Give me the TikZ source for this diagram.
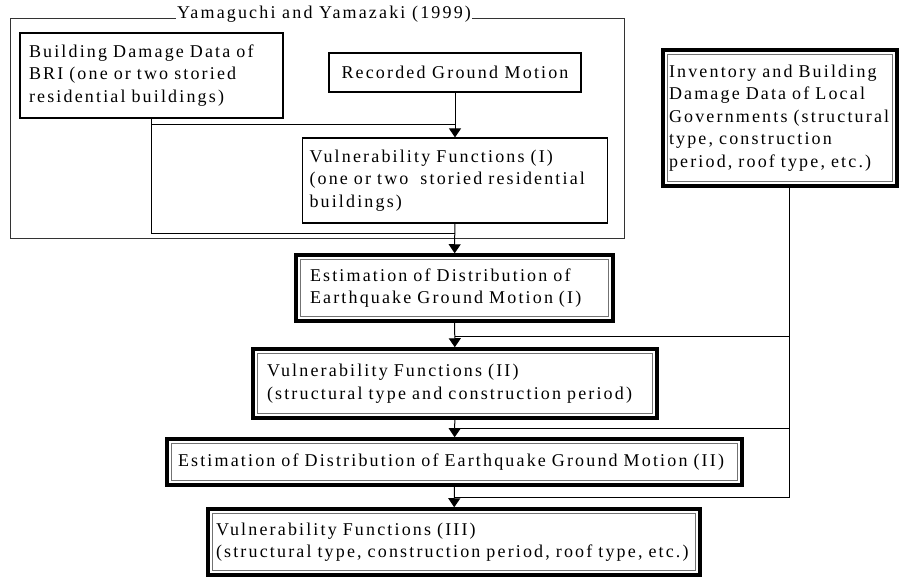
\documentclass[tikz,border=0pt]{standalone}
\usepackage{fontspec}
\setmainfont{Liberation Serif}[LetterSpace=12]
\usetikzlibrary{arrows.meta,positioning}

\begin{document}
\begin{tikzpicture}[x=1pt, y=-1pt,
  txt/.style={font=\fontsize{18}{22.5}\selectfont},
  box/.style={txt, draw, line width=1.2pt, inner ysep=0pt, align=left},
  dbox/.style={txt, draw, line width=3.5pt, inner ysep=0pt, align=left},
  inner/.style={draw=black!55, line width=1.2pt},
  line/.style={draw, line width=1pt},
  arrow/.style={line, -{Triangle[width=12pt,length=9pt]}}
]
  \useasboundingbox (0,0) rectangle (905,577);
  \draw[black!80, line width=1pt] (10,19) rectangle (624,239);
  \node[txt, fill=white, inner sep=1pt] (src) at (324,14) {Yamaguchi and Yamazaki (1999)};

  \node[box, inner xsep=9pt, text width=245pt, minimum height=85pt] (bri) at (151.5,75.5)
    {Building Damage Data of\\BRI (one or two storied\\residential buildings)};
  \node[box, minimum width=252pt, minimum height=39pt, align=center] (rgm) at (455,72.5)
    {Recorded Ground Motion};
  \node[box, inner xsep=7pt, text width=291pt, minimum height=85pt] (vf1) at (455,180.5)
    {Vulnerability Functions (I)\\(one or two~ storied residential\\buildings)};
  \node[dbox, inner xsep=6pt, text width=222pt, minimum height=136pt] (inv) at (780,118)
    {Inventory and Building\\Damage Data of Local\\Governments (structural\\type, construction\\period, roof type, etc.)};

  \node[dbox, inner xsep=14pt, text width=289pt, minimum height=66pt] (egm1) at (454.5,288)
    {Estimation of Distribution of\\Earthquake Ground Motion (I)};
  \node[dbox, inner xsep=14pt, text width=376pt, minimum height=69pt] (vf2) at (455,383.5)
    {Vulnerability Functions (II)\\(structural type and construction period)};
  \node[dbox, inner xsep=11pt, text width=553pt, minimum height=46pt] (egm2) at (454.5,462)
    {Estimation of Distribution of Earthquake Ground Motion (II)};
  \node[dbox, inner xsep=8pt, text width=476pt, minimum height=66pt] (vf3) at (454,542)
    {Vulnerability Functions (III)\\(structural type, construction period, roof type, etc.)};

  \foreach \n in {inv,egm1,vf2,egm2,vf3}
    \draw[inner] ([shift={(6.2pt,-6.2pt)}]\n.north west) rectangle ([shift={(-6.2pt,6.2pt)}]\n.south east);

  \coordinate (j1) at (455,125);
  \coordinate (j2) at (455,234);
  \coordinate (j3) at (455,337);
  \coordinate (j4) at (455,428);
  \coordinate (j5) at (455,497);

  \draw[arrow] (rgm) -- (vf1);
  \draw[line] (bri.south) |- (j1);
  \draw[line] (bri.south) |- (j2);
  \draw[arrow] (vf1) -- (egm1);
  \draw[arrow] (egm1) -- (vf2);
  \draw[arrow] (vf2) -- (egm2);
  \draw[arrow] (egm2) -- (vf3);
  \draw[line] ([xshift=9pt]inv.south) |- (j5);
  \draw[line] ([xshift=9pt]inv.south) |- (j4);
  \draw[line] ([xshift=9pt]inv.south) |- (j3);
\end{tikzpicture}
\end{document}
